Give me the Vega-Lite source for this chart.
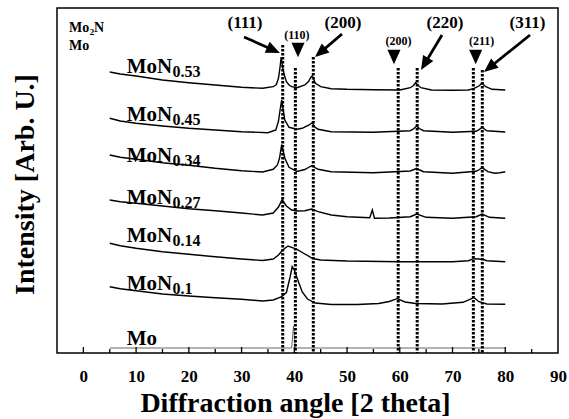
{
  "$schema": "https://vega.github.io/schema/vega-lite/v6.json",
  "width": 501,
  "height": 345,
  "autosize": {"type": "none"},
  "padding": {"left": 57, "top": 8, "right": 11, "bottom": 66},
  "background": "white",
  "config": {
    "view": {"stroke": "black", "strokeWidth": 1.5},
    "font": "Times New Roman, Liberation Serif, DejaVu Serif, serif"
  },
  "encoding": {
    "x": {"type": "quantitative", "scale": {"domain": [-5, 90], "nice": false, "zero": false},
      "axis": {
        "values": [0, 10, 20, 30, 40, 50, 60, 70, 80, 90],
        "ticks": false,
        "domain": false, "grid": false,
        "labelFont": "Times New Roman, Liberation Serif, DejaVu Serif, serif", "labelFontWeight": "bold", "labelFontSize": 17, "labelColor": "black",
        "labelPadding": 15, "labelFlush": false, "labelOverlap": false,
        "title": "Diffraction angle [2 theta]",
        "titleFont": "Times New Roman, Liberation Serif, DejaVu Serif, serif", "titleFontWeight": "bold", "titleFontSize": 28, "titleColor": "black",
        "titleBaseline": "alphabetic", "titleY": 58, "titleX": 238
      }
    },
    "y": {"type": "quantitative", "scale": {"domain": [0, 345], "nice": false, "zero": false},
      "axis": {
        "labels": false, "ticks": false, "domain": false, "grid": false,
        "title": "Intensity [Arb. U.]",
        "titleFont": "Times New Roman, Liberation Serif, DejaVu Serif, serif", "titleFontWeight": "bold", "titleFontSize": 28, "titleColor": "black",
        "titleBaseline": "alphabetic", "titleX": -24, "titleY": 176
      }
    }
  },
  "layer": [
    {
      "data": {"values": [
        {"s":"0.53","a":5,"i":281},{"s":"0.53","a":7,"i":279},{"s":"0.53","a":10,"i":277},{"s":"0.53","a":15,"i":273},{"s":"0.53","a":20,"i":270.3},{"s":"0.53","a":25,"i":268},{"s":"0.53","a":30,"i":265.7},{"s":"0.53","a":34,"i":264.7},{"s":"0.53","a":36,"i":266.3},{"s":"0.53","a":36.6,"i":268.5},{"s":"0.53","a":37,"i":275},{"s":"0.53","a":37.3,"i":286},{"s":"0.53","a":37.5,"i":296},{"s":"0.53","a":37.7,"i":289},{"s":"0.53","a":38,"i":280},{"s":"0.53","a":38.5,"i":271.3},{"s":"0.53","a":39,"i":268},{"s":"0.53","a":39.5,"i":266.3},{"s":"0.53","a":40.5,"i":265.3},{"s":"0.53","a":42,"i":268},{"s":"0.53","a":42.7,"i":271.5},{"s":"0.53","a":43.1,"i":275.5},{"s":"0.53","a":43.4,"i":277},{"s":"0.53","a":43.7,"i":273.5},{"s":"0.53","a":44,"i":269.7},{"s":"0.53","a":45,"i":266.3},{"s":"0.53","a":47,"i":264.3},{"s":"0.53","a":50,"i":263.7},{"s":"0.53","a":55,"i":263.3},{"s":"0.53","a":60,"i":263},{"s":"0.53","a":62,"i":265.3},{"s":"0.53","a":62.6,"i":267.5},{"s":"0.53","a":63,"i":270.3},{"s":"0.53","a":63.4,"i":268},{"s":"0.53","a":64,"i":265.3},{"s":"0.53","a":66,"i":263},{"s":"0.53","a":70,"i":262.7},{"s":"0.53","a":73,"i":263},{"s":"0.53","a":74,"i":264.3},{"s":"0.53","a":75,"i":267},{"s":"0.53","a":75.6,"i":269.7},{"s":"0.53","a":76.3,"i":266.3},{"s":"0.53","a":77.5,"i":263.7},{"s":"0.53","a":80,"i":263},

        {"s":"0.45","a":5,"i":234.7},{"s":"0.45","a":7,"i":232},{"s":"0.45","a":10,"i":229.7},{"s":"0.45","a":15,"i":227},{"s":"0.45","a":20,"i":224.7},{"s":"0.45","a":25,"i":223},{"s":"0.45","a":30,"i":221.3},{"s":"0.45","a":35,"i":220.3},{"s":"0.45","a":36.5,"i":223},{"s":"0.45","a":37,"i":232},{"s":"0.45","a":37.3,"i":243},{"s":"0.45","a":37.6,"i":253},{"s":"0.45","a":37.9,"i":243},{"s":"0.45","a":38.2,"i":233},{"s":"0.45","a":39,"i":225.7},{"s":"0.45","a":40.5,"i":223.7},{"s":"0.45","a":41.5,"i":224.7},{"s":"0.45","a":42.8,"i":228},{"s":"0.45","a":43.4,"i":230.3},{"s":"0.45","a":43.9,"i":226},{"s":"0.45","a":44.5,"i":223.7},{"s":"0.45","a":47,"i":221.3},{"s":"0.45","a":55,"i":220.7},{"s":"0.45","a":62,"i":222.3},{"s":"0.45","a":62.7,"i":224.5},{"s":"0.45","a":63.2,"i":227},{"s":"0.45","a":63.7,"i":224.5},{"s":"0.45","a":64.5,"i":222.3},{"s":"0.45","a":70,"i":220.7},{"s":"0.45","a":74.5,"i":221.7},{"s":"0.45","a":75.1,"i":223.7},{"s":"0.45","a":75.6,"i":225.7},{"s":"0.45","a":76.5,"i":222.3},{"s":"0.45","a":80,"i":221},

        {"s":"0.34","a":5,"i":198},{"s":"0.34","a":7,"i":195.7},{"s":"0.34","a":10,"i":193.7},{"s":"0.34","a":15,"i":190.3},{"s":"0.34","a":20,"i":187.7},{"s":"0.34","a":25,"i":184.7},{"s":"0.34","a":30,"i":182.3},{"s":"0.34","a":34,"i":181},{"s":"0.34","a":36,"i":183.7},{"s":"0.34","a":36.8,"i":188},{"s":"0.34","a":37.2,"i":195},{"s":"0.34","a":37.6,"i":208.5},{"s":"0.34","a":37.9,"i":202},{"s":"0.34","a":38.2,"i":194.7},{"s":"0.34","a":39,"i":185.7},{"s":"0.34","a":40.5,"i":181.5},{"s":"0.34","a":42,"i":183.5},{"s":"0.34","a":43,"i":186.5},{"s":"0.34","a":43.4,"i":187.5},{"s":"0.34","a":44,"i":185},{"s":"0.34","a":44.5,"i":183.7},{"s":"0.34","a":47,"i":181.3},{"s":"0.34","a":55,"i":180.3},{"s":"0.34","a":62,"i":182},{"s":"0.34","a":62.7,"i":183.5},{"s":"0.34","a":63.2,"i":184.7},{"s":"0.34","a":63.8,"i":183},{"s":"0.34","a":64.5,"i":181.3},{"s":"0.34","a":70,"i":179.7},{"s":"0.34","a":74.5,"i":181.7},{"s":"0.34","a":75.1,"i":183.5},{"s":"0.34","a":75.6,"i":185.3},{"s":"0.34","a":76.7,"i":181.3},{"s":"0.34","a":78,"i":179.7},{"s":"0.34","a":79,"i":180.3},{"s":"0.34","a":80,"i":181.3},

        {"s":"0.27","a":5,"i":153},{"s":"0.27","a":7,"i":151.3},{"s":"0.27","a":10,"i":149.7},{"s":"0.27","a":15,"i":147},{"s":"0.27","a":20,"i":144.3},{"s":"0.27","a":25,"i":142.3},{"s":"0.27","a":30,"i":140},{"s":"0.27","a":34,"i":138},{"s":"0.27","a":36,"i":140},{"s":"0.27","a":37,"i":146},{"s":"0.27","a":37.7,"i":153.5},{"s":"0.27","a":38.1,"i":150},{"s":"0.27","a":38.5,"i":147},{"s":"0.27","a":39.5,"i":143},{"s":"0.27","a":40.5,"i":142},{"s":"0.27","a":42,"i":142.3},{"s":"0.27","a":43.3,"i":144},{"s":"0.27","a":44.5,"i":141.3},{"s":"0.27","a":47,"i":138},{"s":"0.27","a":50,"i":136.3},{"s":"0.27","a":54.3,"i":135.3},{"s":"0.27","a":54.8,"i":143},{"s":"0.27","a":55.2,"i":134.7},{"s":"0.27","a":58,"i":135},{"s":"0.27","a":62,"i":136.3},{"s":"0.27","a":63.2,"i":139},{"s":"0.27","a":65,"i":135.7},{"s":"0.27","a":70,"i":134.7},{"s":"0.27","a":74.5,"i":136.3},{"s":"0.27","a":75.6,"i":139},{"s":"0.27","a":77,"i":135.7},{"s":"0.27","a":80,"i":134.7},

        {"s":"0.14","a":5,"i":109.7},{"s":"0.14","a":7,"i":107.3},{"s":"0.14","a":10,"i":104.7},{"s":"0.14","a":15,"i":101.3},{"s":"0.14","a":20,"i":98.7},{"s":"0.14","a":25,"i":96.3},{"s":"0.14","a":30,"i":94},{"s":"0.14","a":34,"i":92.5},{"s":"0.14","a":36,"i":94},{"s":"0.14","a":37,"i":98},{"s":"0.14","a":37.8,"i":103},{"s":"0.14","a":38.8,"i":107},{"s":"0.14","a":39.5,"i":105.7},{"s":"0.14","a":40.5,"i":103.7},{"s":"0.14","a":42,"i":99},{"s":"0.14","a":43.5,"i":94.5},{"s":"0.14","a":45,"i":93},{"s":"0.14","a":50,"i":92},{"s":"0.14","a":60,"i":91.3},{"s":"0.14","a":70,"i":91.3},{"s":"0.14","a":73,"i":92.3},{"s":"0.14","a":74,"i":94.3},{"s":"0.14","a":75,"i":94},{"s":"0.14","a":75.7,"i":93.7},{"s":"0.14","a":76.5,"i":92.3},{"s":"0.14","a":80,"i":91.3},

        {"s":"0.1","a":5,"i":66.3},{"s":"0.1","a":7,"i":64.3},{"s":"0.1","a":10,"i":62.3},{"s":"0.1","a":15,"i":59},{"s":"0.1","a":20,"i":57},{"s":"0.1","a":25,"i":55.3},{"s":"0.1","a":30,"i":53.7},{"s":"0.1","a":34,"i":52},{"s":"0.1","a":36,"i":53},{"s":"0.1","a":37.5,"i":56},{"s":"0.1","a":38.5,"i":60.5},{"s":"0.1","a":39.2,"i":76},{"s":"0.1","a":39.6,"i":86.3},{"s":"0.1","a":40,"i":83},{"s":"0.1","a":40.8,"i":71},{"s":"0.1","a":41.5,"i":61},{"s":"0.1","a":42.5,"i":54},{"s":"0.1","a":44,"i":50},{"s":"0.1","a":47,"i":48.5},{"s":"0.1","a":52,"i":48.5},{"s":"0.1","a":56,"i":49.5},{"s":"0.1","a":58,"i":51.5},{"s":"0.1","a":59.5,"i":54.3},{"s":"0.1","a":61,"i":51},{"s":"0.1","a":63,"i":49.5},{"s":"0.1","a":68,"i":49},{"s":"0.1","a":72,"i":50.7},{"s":"0.1","a":73.5,"i":54},{"s":"0.1","a":74,"i":55.7},{"s":"0.1","a":75,"i":51.3},{"s":"0.1","a":76.5,"i":49},{"s":"0.1","a":80,"i":48.7}
      ]},
      "mark": {"type": "line", "color": "black", "strokeWidth": 1.4},
      "encoding": {
        "x": {"field": "a", "type": "quantitative"},
        "y": {"field": "i", "type": "quantitative"},
        "detail": {"field": "s", "type": "nominal"}
      }
    },
    {
      "data": {"values": [
        {"a":5,"i":5},{"a":39.5,"i":5},{"a":39.7,"i":18},{"a":39.85,"i":27},{"a":40.0,"i":18},{"a":40.2,"i":5},{"a":80,"i":5}
      ]},
      "mark": {"type": "line", "color": "#666666", "strokeWidth": 1},
      "encoding": {
        "x": {"field": "a", "type": "quantitative"},
        "y": {"field": "i", "type": "quantitative"}
      }
    },
    {
      "data": {"values": [{"v":0},{"v":10},{"v":20},{"v":30},{"v":40},{"v":50},{"v":60},{"v":70},{"v":80}]},
      "mark": {"type": "rule", "color": "black", "strokeWidth": 1.3},
      "encoding": {
        "x": {"field": "v", "type": "quantitative"},
        "y": {"datum": 0},
        "y2": {"datum": 6}
      }
    },
    {
      "data": {"values": [{"v":5},{"v":15},{"v":25},{"v":35},{"v":45},{"v":55},{"v":65},{"v":75},{"v":85}]},
      "mark": {"type": "rule", "color": "black", "strokeWidth": 1.3},
      "encoding": {
        "x": {"field": "v", "type": "quantitative"},
        "y": {"datum": 0},
        "y2": {"datum": 4}
      }
    },
    {
      "data": {"values": [
        {"p":37.8,"top":308},{"p":40.2,"top":285},{"p":43.6,"top":296},{"p":59.7,"top":285},{"p":63.3,"top":285},{"p":73.95,"top":285},{"p":75.65,"top":283}
      ]},
      "mark": {"type": "rule", "color": "black", "strokeWidth": 3, "strokeDash": [2.5, 1.5]},
      "encoding": {
        "x": {"field": "p", "type": "quantitative"},
        "y": {"field": "top", "type": "quantitative"},
        "y2": {"datum": 0}
      }
    },
    {
      "data": {"values": [
        {"x":30.46,"y":316,"x2":37.28,"y2":300},
        {"x":49.04,"y":319,"x2":43.92,"y2":296},
        {"x":68.0,"y":318,"x2":64.02,"y2":283},
        {"x":84.69,"y":318,"x2":75.96,"y2":281}
      ]},
      "transform": [
        {"calculate": "sqrt(pow((datum.x2 - datum.x) * 5.274, 2) + pow(datum.y2 - datum.y, 2))", "as": "len"},
        {"calculate": "datum.x2 - (datum.x2 - datum.x) * 8 / datum.len", "as": "xe"},
        {"calculate": "datum.y2 - (datum.y2 - datum.y) * 8 / datum.len", "as": "ye"}
      ],
      "mark": {"type": "rule", "color": "black", "strokeWidth": 2.8},
      "encoding": {
        "x": {"field": "x", "type": "quantitative"},
        "y": {"field": "y", "type": "quantitative"},
        "x2": {"field": "xe"},
        "y2": {"field": "ye"}
      }
    },
    {
      "data": {"values": [
        {"x":30.46,"y":316,"x2":37.28,"y2":300},
        {"x":49.04,"y":319,"x2":43.92,"y2":296},
        {"x":68.0,"y":318,"x2":64.02,"y2":283},
        {"x":84.69,"y":318,"x2":75.96,"y2":281}
      ]},
      "transform": [
        {"calculate": "atan2(-(datum.y2 - datum.y), (datum.x2 - datum.x) * 5.274) * 180 / PI", "as": "ang"}
      ],
      "mark": {"type": "point", "shape": "M0,0L-2,-0.85L-2,0.85Z", "filled": true, "color": "black", "opacity": 1, "size": 196},
      "encoding": {
        "x": {"field": "x2", "type": "quantitative"},
        "y": {"field": "y2", "type": "quantitative"},
        "angle": {"field": "ang", "type": "quantitative", "scale": null}
      }
    },
    {
      "data": {"values": [
        {"a":40.7,"i":303},{"a":58.9,"i":296},{"a":74.39,"i":296}
      ]},
      "mark": {"type": "point", "shape": "M-0.9,-1L0.9,-1L0,1Z", "filled": true, "color": "black", "opacity": 1, "size": 210},
      "encoding": {
        "x": {"field": "a", "type": "quantitative"},
        "y": {"field": "i", "type": "quantitative"}
      }
    },
    {
      "data": {"values": [
        {"t":"MoN","a":8.22,"i":279.7},{"t":"MoN","a":8.22,"i":232},{"t":"MoN","a":8.22,"i":191},{"t":"MoN","a":8.22,"i":149},{"t":"MoN","a":8.22,"i":111.3},{"t":"MoN","a":8.22,"i":63},{"t":"Mo","a":8.22,"i":8}
      ]},
      "mark": {"type": "text", "align": "left", "baseline": "alphabetic", "fontWeight": "bold", "fontSize": 21, "color": "black"},
      "encoding": {
        "x": {"field": "a", "type": "quantitative"},
        "y": {"field": "i", "type": "quantitative"},
        "text": {"field": "t"}
      }
    },
    {
      "data": {"values": [
        {"t":"0.53","a":16.9,"i":276},{"t":"0.45","a":16.9,"i":228.3},{"t":"0.34","a":16.9,"i":187},{"t":"0.27","a":16.9,"i":145},{"t":"0.14","a":16.9,"i":107.5},{"t":"0.1","a":16.9,"i":59}
      ]},
      "mark": {"type": "text", "align": "left", "baseline": "alphabetic", "fontWeight": "bold", "fontSize": 16, "color": "black"},
      "encoding": {
        "x": {"field": "a", "type": "quantitative"},
        "y": {"field": "i", "type": "quantitative"},
        "text": {"field": "t"}
      }
    },
    {
      "data": {"values": [
        {"t":"Mo","a":-2.72,"i":321.3},{"t":"N","a":2.0,"i":321.3},{"t":"Mo","a":-2.72,"i":303}
      ]},
      "mark": {"type": "text", "align": "left", "baseline": "alphabetic", "fontWeight": "bold", "fontSize": 14, "color": "black"},
      "encoding": {
        "x": {"field": "a", "type": "quantitative"},
        "y": {"field": "i", "type": "quantitative"},
        "text": {"field": "t"}
      }
    },
    {
      "data": {"values": [{"t":"2","a":1.2,"i":318}]},
      "mark": {"type": "text", "align": "left", "baseline": "alphabetic", "fontWeight": "bold", "fontSize": 9, "color": "black"},
      "encoding": {
        "x": {"field": "a", "type": "quantitative"},
        "y": {"field": "i", "type": "quantitative"},
        "text": {"field": "t"}
      }
    },
    {
      "data": {"values": [
        {"t":"(111)","a":30.65,"i":325},{"t":"(200)","a":49.23,"i":325},{"t":"(220)","a":68.57,"i":325},{"t":"(311)","a":84.21,"i":325}
      ]},
      "mark": {"type": "text", "align": "center", "baseline": "alphabetic", "fontWeight": "bold", "fontSize": 17, "color": "black"},
      "encoding": {
        "x": {"field": "a", "type": "quantitative"},
        "y": {"field": "i", "type": "quantitative"},
        "text": {"field": "t"}
      }
    },
    {
      "data": {"values": [
        {"t":"(110)","a":40.5,"i":314},{"t":"(200)","a":59.75,"i":308},{"t":"(211)","a":75.53,"i":308}
      ]},
      "mark": {"type": "text", "align": "center", "baseline": "alphabetic", "fontWeight": "bold", "fontSize": 12, "color": "black"},
      "encoding": {
        "x": {"field": "a", "type": "quantitative"},
        "y": {"field": "i", "type": "quantitative"},
        "text": {"field": "t"}
      }
    }
  ]
}
